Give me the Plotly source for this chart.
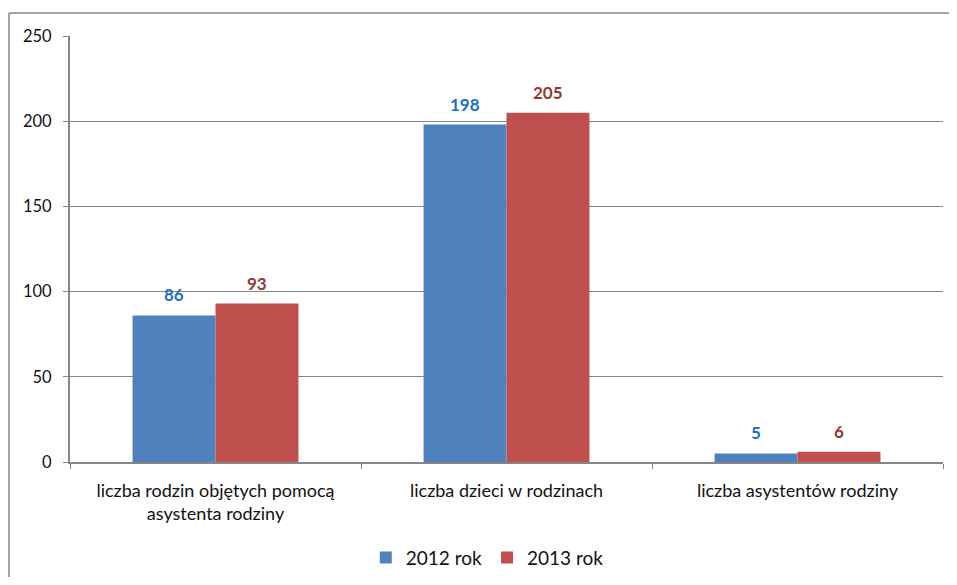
import plotly.graph_objects as go

categories = ["liczba rodzin objętych pomocą<br>asystenta rodziny", "liczba dzieci w rodzinach", "liczba asystentów rodziny"]
series_names = ["2012 rok", "2013 rok"]
values_2012 = [86, 198, 5]
values_2013 = [93, 205, 6]
y_ticks = [0, 50, 100, 150, 200, 250]

FONT = "Lato, 'Open Sans', sans-serif"
GRID = "#868686"
BAR_COLORS = ["#4F81BD", "#C0504D"]
LABEL_COLORS = ["#1F70C1", "#953735"]

fig = go.Figure()
for name, vals, col in zip(series_names, [values_2012, values_2013], BAR_COLORS):
    fig.add_trace(go.Bar(x=categories, y=vals, name=name,
                         marker=dict(color=col, line=dict(width=0))))

# data labels above bars (bar half-width in px offsets)
for i, (vals, lc) in enumerate(zip([values_2012, values_2013], LABEL_COLORS)):
    shift = -41.5 if i == 0 else 41.5
    for c, v in zip(categories, vals):
        fig.add_annotation(x=c, y=v, text=f"<b>{v}</b>", showarrow=False,
                           xanchor="center", yanchor="bottom", xshift=shift, yshift=8,
                           font=dict(size=17, family=FONT, color=lc))

fig.update_layout(
    width=941, height=569,
    margin=dict(l=62, r=6, t=28, b=115),
    paper_bgcolor="white", plot_bgcolor="white",
    barmode="group", bargap=0.43, bargroupgap=0,
    font=dict(family=FONT, size=16, color="#111111"),
    showlegend=True,
    legend=dict(orientation="h", x=0.478, xanchor="center",
                yref="container", y=0.034, yanchor="middle",
                font=dict(size=19, family=FONT, color="#111111"),
                traceorder="normal"),
)
fig.update_yaxes(range=[0, 250], tickvals=y_ticks, showgrid=True, gridcolor=GRID, gridwidth=1,
                 showline=True, linecolor=GRID, linewidth=2, ticks="outside", ticklen=5,
                 tickcolor=GRID, tickwidth=1, zeroline=False, ticklabelstandoff=8,
                 tickfont=dict(size=16.5, family=FONT, color="#111111"))
fig.update_xaxes(showline=True, linecolor=GRID, linewidth=2, ticks="outside", ticklen=5,
                 tickcolor=GRID, tickson="boundaries", ticklabelstandoff=11,
                 tickfont=dict(size=18, family=FONT, color="#111111"))

# outer chart border (only top and left edges are visible in the reference)
fig.add_shape(type="line", xref="paper", yref="paper", x0=-0.0699, x1=-0.0699, y0=-0.6, y1=1.054,
              line=dict(color=GRID, width=1.5), layer="below")
fig.add_shape(type="line", xref="paper", yref="paper", x0=-0.0699, x1=1.2, y0=1.054, y1=1.054,
              line=dict(color=GRID, width=1.5), layer="below")

fig.write_html("out.html")
